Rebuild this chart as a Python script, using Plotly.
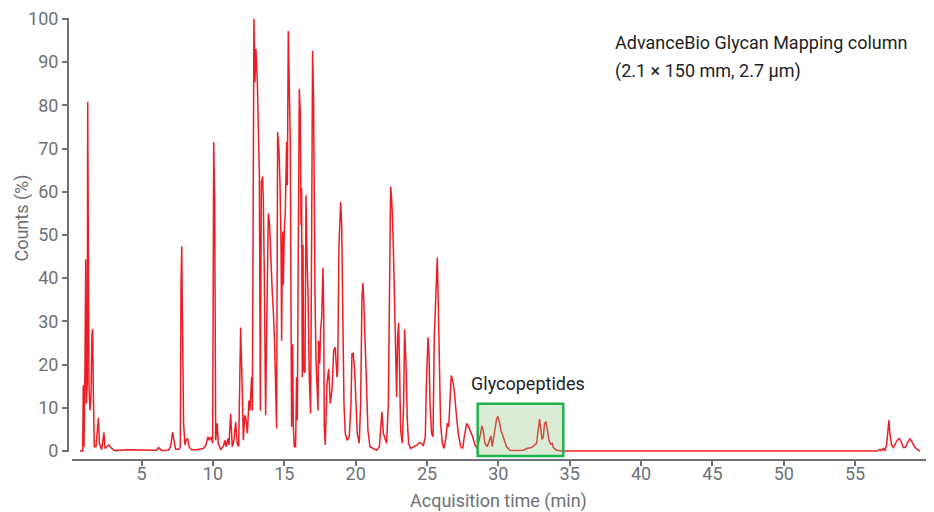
import plotly.graph_objects as go

# Chromatogram trace: acquisition time (min) and counts (%)
time_min = [
    0.68, 0.87, 0.91, 0.96, 1.03, 1.08, 1.12, 1.19, 1.22, 1.26, 1.31, 1.38, 1.45, 1.52, 1.57, 1.61,
    1.68, 1.80, 1.97, 2.04, 2.13, 2.20, 2.36, 2.43, 2.55, 2.71, 2.90, 3.13, 4.00, 5.00, 6.05, 6.19,
    6.40, 6.87, 7.03, 7.17, 7.27, 7.38, 7.62, 7.71, 7.76, 7.81, 7.87, 7.94, 8.04, 8.11, 8.23, 8.32,
    8.50, 8.86, 9.32, 9.51, 9.65, 9.74, 9.88, 9.98, 10.05, 10.12, 10.19, 10.30, 10.37, 10.54, 10.72,
    10.84, 10.91, 11.05, 11.12, 11.24, 11.35, 11.47, 11.59, 11.70, 11.80, 11.94, 12.03, 12.13, 12.22,
    12.31, 12.41, 12.52, 12.59, 12.71, 12.76, 12.83, 12.87, 12.94, 13.01, 13.11, 13.18, 13.25, 13.32,
    13.39, 13.48, 13.53, 13.60, 13.69, 13.78, 13.88, 13.97, 14.06, 14.16, 14.23, 14.32, 14.46, 14.53,
    14.63, 14.70, 14.77, 14.81, 14.88, 14.93, 15.00, 15.07, 15.16, 15.21, 15.28, 15.35, 15.42, 15.47,
    15.51, 15.58, 15.63, 15.70, 15.79, 15.86, 15.91, 15.98, 16.05, 16.12, 16.17, 16.21, 16.26, 16.31,
    16.35, 16.45, 16.52, 16.59, 16.66, 16.75, 16.84, 16.91, 16.98, 17.05, 17.10, 17.15, 17.22, 17.29,
    17.36, 17.40, 17.48, 17.54, 17.62, 17.71, 17.76, 17.80, 17.87, 17.99, 18.11, 18.22, 18.34, 18.46,
    18.57, 18.69, 18.74, 18.83, 18.95, 19.02, 19.09, 19.18, 19.27, 19.41, 19.55, 19.67, 19.74, 19.83,
    19.93, 20.02, 20.11, 20.25, 20.35, 20.44, 20.51, 20.58, 20.68, 20.77, 20.86, 21.00, 21.24, 21.47,
    21.66, 21.77, 21.84, 21.94, 22.03, 22.17, 22.29, 22.36, 22.45, 22.52, 22.59, 22.68, 22.78, 22.87,
    22.94, 23.01, 23.08, 23.15, 23.27, 23.36, 23.43, 23.52, 23.62, 23.71, 23.85, 24.09, 24.32, 24.46,
    24.60, 24.74, 24.88, 24.95, 25.02, 25.07, 25.14, 25.21, 25.32, 25.42, 25.51, 25.60, 25.67, 25.72,
    25.79, 25.86, 25.95, 26.07, 26.19, 26.33, 26.42, 26.52, 26.61, 26.70, 26.80, 26.91, 27.03, 27.19,
    27.36, 27.50, 27.61, 27.78, 27.92, 28.06, 28.20, 28.36, 28.50, 28.71, 28.85, 28.94, 29.06, 29.22,
    29.36, 29.48, 29.57, 29.69, 29.78, 29.88, 29.97, 30.07, 30.18, 30.30, 30.44, 30.58, 30.81, 31.28,
    31.75, 31.98, 32.33, 32.68, 32.82, 32.89, 32.96, 33.06, 33.15, 33.24, 33.34, 33.43, 33.55, 33.66,
    33.78, 33.85, 34.08, 34.43, 40.00, 50.00, 56.51, 56.74, 56.86, 56.98, 57.09, 57.21, 57.30, 57.37,
    57.44, 57.56, 57.68, 57.79, 57.96, 58.10, 58.24, 58.38, 58.52, 58.66, 58.85, 58.99, 59.15, 59.31,
    59.55,
]
counts_pct = [
    0.0, 0.0, 15.2, 1.0, 19.4, 44.3, 11.0, 15.6, 80.8, 19.4, 14.8, 9.4, 12.5, 27.0, 28.2, 14.8,
    1.0, 1.0, 7.7, 1.8, 1.0, 0.3, 4.3, 0.6, 1.0, 1.4, 0.6, 0.1, 0.3, 0.2, 0.2, 0.8,
    0.15, 0.2, 1.0, 4.4, 2.5, 0.4, 0.4, 1.0, 38.2, 47.4, 27.0, 6.4, 1.4, 2.5, 2.9, 1.0,
    0.3, 0.3, 0.6, 1.4, 3.3, 2.5, 3.3, 1.8, 71.5, 57.7, 2.5, 6.4, 1.8, 0.4, 1.0,
    2.5, 1.0, 2.9, 1.4, 8.6, 1.0, 2.5, 6.7, 1.8, 1.0, 28.6, 17.1, 2.5, 8.3,
    7.5, 4.1, 11.7, 9.4, 17.1, 9.4, 99.1, 100.0, 85.3, 93.0, 85.3, 74.6, 63.8, 9.4,
    62.3, 63.5, 57.7, 40.1, 8.3, 32.4, 55.0, 52.3, 43.1, 36.3, 32.4, 24.7, 5.2, 73.8,
    69.2, 61.5, 47.7, 25.5, 50.8, 38.5, 50.8, 55.4, 71.5, 61.5, 97.2, 86.1, 70.7, 32.4,
    5.6, 24.7, 5.6, 1.0, 1.0, 17.1, 7.1, 47.7, 83.8, 78.4, 52.3, 60.8, 17.1, 47.7,
    18.6, 18.2, 59.2, 44.7, 36.3, 17.1, 8.7, 47.7, 92.6, 81.5, 55.4, 36.3, 20.9, 12.5,
    9.4, 25.5, 20.2, 27.8, 30.9, 42.4, 32.4, 5.6, 1.4, 15.6, 19.0, 11.0, 14.0, 23.2,
    24.0, 17.1, 18.6, 47.7, 57.7, 52.3, 37.0, 11.0, 4.1, 2.5, 3.3, 11.0, 22.5, 22.6,
    18.6, 11.0, 4.1, 1.8, 11.0, 35.5, 38.9, 34.0, 21.7, 14.8, 4.8, 1.0, 0.6, 0.2,
    1.0, 6.4, 9.0, 4.1, 3.3, 1.8, 11.0, 41.6, 61.2, 58.5, 53.1, 41.6, 26.3, 12.5,
    26.3, 29.7, 18.6, 4.8, 1.8, 11.0, 28.2, 20.9, 7.1, 1.8, 0.6, 1.0, 1.4, 1.9,
    1.8, 1.2, 3.3, 14.8, 23.2, 26.3, 22.5, 11.0, 4.1, 3.3, 26.3, 34.7, 44.7, 44.8,
    34.0, 21.7, 6.4, 1.8, 0.6, 3.3, 6.4, 5.6, 11.0, 17.5, 16.3, 14.0, 9.4, 4.1,
    1.0, 0.6, 3.3, 6.4, 5.6, 4.5, 3.3, 1.4, 0.6, 3.3, 5.8, 4.8, 1.8, 1.0,
    2.5, 3.5, 1.0, 3.3, 5.6, 7.5, 8.0, 6.8, 4.8, 3.7, 2.2, 1.0, 0.2, 0.1,
    0.2, 0.6, 0.8, 1.8, 5.6, 7.4, 5.6, 2.7, 3.3, 6.4, 6.8, 4.8, 2.5, 1.6,
    1.8, 0.8, 0.2, 0.0, 0.0, 0.0, 0.0, 0.4, 0.1, 0.6, 0.2, 1.4, 4.1, 7.1,
    4.1, 1.4, 0.8, 1.4, 2.5, 2.9, 2.1, 0.8, 0.8, 1.8, 2.9, 2.1, 1.1, 0.5,
    0.0,
]

y_ticks = [0, 10, 20, 30, 40, 50, 60, 70, 80, 90, 100]
x_ticks = [5, 10, 15, 20, 25, 30, 35, 40, 45, 50, 55]

glyco_window = [28.55, 34.55]
glyco_label = "Glycopeptides"
column_label = ["AdvanceBio Glycan Mapping column", "(2.1 × 150 mm, 2.7 µm)"]
x_title = "Acquisition time (min)"
y_title = "Counts (%)"

AXIS = "#6e7176"
FONT = "Roboto"

fig = go.Figure()
fig.add_trace(go.Scatter(
    x=time_min, y=counts_pct, mode="lines",
    line=dict(color="#ee1c24", width=1.5),
    hoverinfo="skip", showlegend=False,
))

# Glycopeptide window box
fig.add_shape(
    type="rect", xref="x", yref="paper",
    x0=glyco_window[0], x1=glyco_window[1], y0=0.009, y1=0.127,
    line=dict(color="#22b14c", width=2.5),
    fillcolor="rgba(132,192,118,0.3)", layer="above",
)

fig.add_annotation(
    x=(glyco_window[0] + glyco_window[1]) / 2, y=15.6, xref="x", yref="y",
    text=glyco_label, showarrow=False, xshift=8,
    font=dict(family=FONT, size=18, color="#222222"),
)
fig.add_annotation(
    x=0.635, y=0.9437, xref="paper", yref="paper", xanchor="left", yanchor="middle",
    text=column_label[0], showarrow=False,
    font=dict(family=FONT, size=18, color="#1e1e1e"),
)
fig.add_annotation(
    x=0.635, y=0.8806, xref="paper", yref="paper", xanchor="left", yanchor="middle",
    text=column_label[1], showarrow=False,
    font=dict(family=FONT, size=18, color="#1e1e1e"),
)
# Axis titles
fig.add_annotation(
    x=0, xref="paper", xshift=-46, y=53.8, yref="y",
    text=y_title, textangle=-90, showarrow=False,
    xanchor="center", yanchor="middle",
    font=dict(family=FONT, size=18, color=AXIS),
)
fig.add_annotation(
    x=30.04, xref="x", y=0, yref="paper", yshift=-41,
    text=x_title, showarrow=False, xanchor="center", yanchor="middle",
    font=dict(family=FONT, size=18, color=AXIS),
)

fig.update_layout(
    width=934, height=512,
    margin=dict(l=68, r=8, t=15, b=52),
    paper_bgcolor="white", plot_bgcolor="white",
    font=dict(family=FONT, size=18, color=AXIS),
    showlegend=False,
    xaxis=dict(
        domain=[0.00466, 1], anchor="free", position=0,
        range=[0.12, 59.97], tickvals=x_ticks, ticktext=[str(v) for v in x_ticks],
        showline=True, linecolor=AXIS, linewidth=2,
        ticks="outside", ticklen=5, tickwidth=2, tickcolor=AXIS,
        ticklabelstandoff=-8,
        showgrid=False, zeroline=False,
        tickfont=dict(family=FONT, size=18, color=AXIS),
    ),
    yaxis=dict(
        domain=[0.0173, 1], anchor="free", position=0,
        range=[-0.3, 100.2], tickvals=y_ticks, ticktext=[str(v) for v in y_ticks],
        showline=True, linecolor=AXIS, linewidth=2,
        ticks="outside", ticklen=5, tickwidth=2, tickcolor=AXIS,
        showgrid=False, zeroline=False,
        tickfont=dict(family=FONT, size=18, color=AXIS),
    ),
)

fig.write_html("out.html", config={"displayModeBar": False},
               post_script="document.body.style.margin='0';")
